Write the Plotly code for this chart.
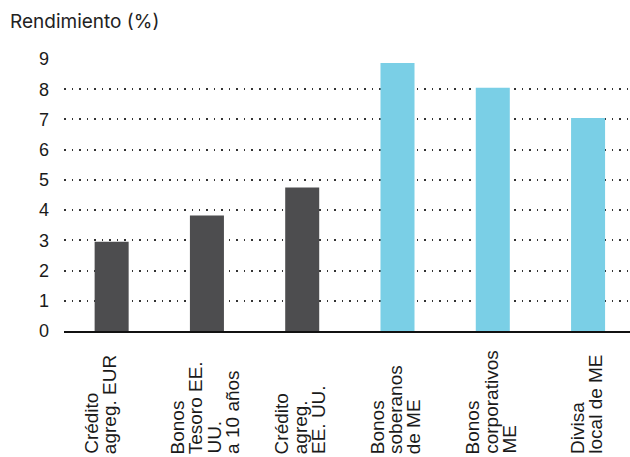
import plotly.graph_objects as go

# --- data ---
categories = ["Crédito agreg. EUR", "Bonos Tesoro EE. UU. a 10 años", "Crédito agreg. EE. UU.",
              "Bonos soberanos de ME", "Bonos corporativos ME", "Divisa local de ME"]
label_lines = [["Crédito", "agreg. EUR", ""],
               ["Bonos", "Tesoro EE.", "UU.", "a 10 años"],
               ["Crédito", "agreg.", "EE. UU."],
               ["Bonos", "soberanos", "de ME"],
               ["Bonos", "corporativos", "ME"],
               ["Divisa", "local de ME"]]
values = [2.95, 3.82, 4.75, 8.87, 8.05, 7.05]
bar_colors = ["#4D4D4F", "#4D4D4F", "#4D4D4F", "#7ACFE6", "#7ACFE6", "#7ACFE6"]
y_ticks = list(range(0, 10))
y_title = "Rendimiento (%)"

fig = go.Figure()
fig.add_trace(go.Bar(x=categories, y=values, marker=dict(color=bar_colors, line=dict(width=0)),
                     width=0.357, hoverinfo="skip"))

pitch = 18.3
annotations = []
for cat, lines in zip(categories, label_lines):
    n = len(lines)
    for j, line in enumerate(lines):
        if not line:
            continue
        annotations.append(dict(
            x=cat, xref="x", y=0, yref="paper", yshift=-125,
            xshift=(j - (n - 1) / 2) * pitch - 2,
            text=line, showarrow=False, textangle=-90,
            xanchor="center", yanchor="bottom",
            font=dict(family="Liberation Sans, Arial", size=19, color="#1a1a1a"),
        ))

fig.update_layout(
    width=630, height=457,
    margin=dict(l=64, r=0, t=59, b=126),
    plot_bgcolor="white", paper_bgcolor="white",
    showlegend=False,
    title=dict(text=y_title, xref="container", yref="container", x=10 / 630, xanchor="left",
               y=1 - 21 / 457, yanchor="middle",
               font=dict(family="Inter", size=19, color="#222222")),
    annotations=annotations,
    xaxis=dict(type="category", range=[-0.5, 5.44], showticklabels=False, showgrid=False,
               showline=True, linecolor="#111111", linewidth=2, ticks="", zeroline=False),
    yaxis=dict(range=[0, 9], tickvals=y_ticks, showgrid=True, gridcolor="#333333", gridwidth=1.5,
               griddash="1.5px,6px", zeroline=False, showline=False, ticks="",
               ticklabelstandoff=14,
               tickfont=dict(family="Liberation Sans, Arial", size=18, color="#1a1a1a")),
)

fig.write_html("out.html")
